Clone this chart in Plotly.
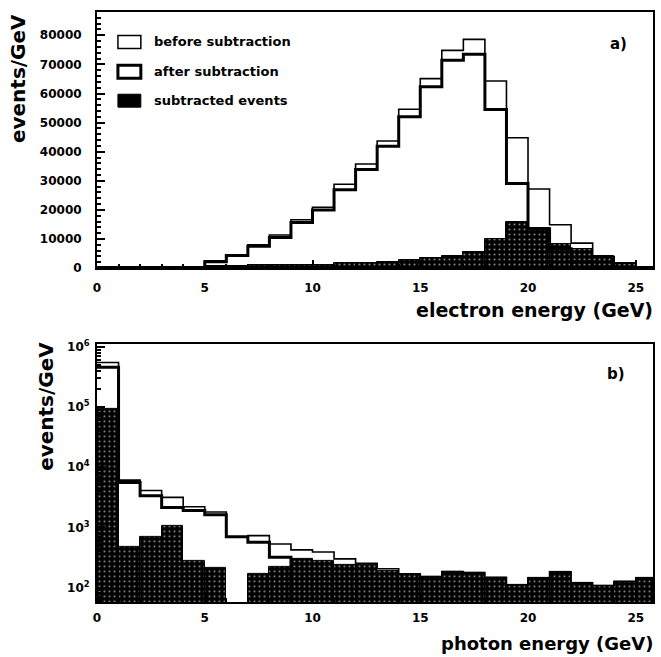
import plotly.graph_objects as go

# 1 GeV bins from 0 to 26 GeV
bin_edges = list(range(27))
bin_centers = [k + 0.5 for k in range(26)]

# a) electron energy spectrum, events/GeV
electron_before = [300, 300, 300, 300, 300, 2500, 4600, 8000, 11400, 16600, 20900, 28800, 35800,
                   43700, 54600, 65100, 74800, 78600, 64300, 44800, 27200, 14900, 8600, 4000, 1700, 300]
electron_after = [250, 250, 250, 250, 250, 2200, 4300, 7500, 10500, 15700, 20000, 26900, 33900,
                  41900, 52000, 62300, 71400, 73500, 54500, 29100, 13500, 6700, 2100, 300, 100, 50]
electron_subtracted = [150, 150, 150, 150, 150, 900, 900, 1000, 1000, 1100, 1200, 1900, 1900,
                       2000, 2900, 3400, 4000, 5500, 10000, 16000, 13700, 8200, 6500, 4000, 1700, 250]

# b) photon energy spectrum, events/GeV
photon_before = [550000, 6100, 4100, 3150, 2200, 1800, 700, 730, 530, 423, 390, 300, 253,
                 205, 169, 152, 184, 177, 148, 111, 145, 182, 120, 108, 127, 145]
photon_after = [457000, 5600, 3370, 2150, 1900, 1620, 700, 565, 318, 40, 40, 40, 13,
                19, 4, 2, 4, 2, 3, 1, 2, 2, 2, 2, 2, 2]
photon_subtracted = [93000, 480, 700, 1040, 273, 210, 0, 169, 223, 299, 275, 241, 240,
                     186, 165, 150, 180, 175, 145, 110, 143, 180, 118, 106, 125, 143]

legend_labels = ["before subtraction", "after subtraction", "subtracted events"]
x_ticks = [0, 5, 10, 15, 20, 25]
electron_yticks = [0, 10000, 20000, 30000, 40000, 50000, 60000, 70000, 80000]
photon_yticks = [1e2, 1e3, 1e4, 1e5, 1e6]
photon_yticklabels = ["10<sup>2</sup>", "10<sup>3</sup>", "10<sup>4</sup>", "10<sup>5</sup>", "10<sup>6</sup>"]
photon_minor_ticks = [m * 10 ** e for e in range(1, 6) for m in range(2, 10)]

FONT = "DejaVu Sans"
W, H = 661, 657
PL, PR, PT, PB = 97, 655, 10, 602


def px(x):
    return (x - PL) / (PR - PL)


def py(y):
    return (PB - y) / (PB - PT)


def steps(vals):
    return vals + [vals[-1]]


hatch = dict(shape=".", fgcolor="white", bgcolor="black", size=5, solidity=0.15)

fig = go.Figure()

# electron panel
fig.add_trace(go.Bar(x=bin_centers, y=electron_subtracted, width=1, xaxis="x", yaxis="y",
                     marker=dict(color="black", line=dict(color="black", width=1), pattern=hatch)))
fig.add_trace(go.Scatter(x=bin_edges, y=steps(electron_before), mode="lines", line_shape="hv",
                         line=dict(color="black", width=1.6), xaxis="x", yaxis="y"))
fig.add_trace(go.Scatter(x=bin_edges, y=steps(electron_after), mode="lines", line_shape="hv",
                         line=dict(color="black", width=3), xaxis="x", yaxis="y"))

# photon panel
fig.add_trace(go.Bar(x=bin_centers, y=photon_subtracted, width=1, xaxis="x2", yaxis="y2",
                     marker=dict(color="black", line=dict(color="black", width=1), pattern=hatch)))
fig.add_trace(go.Scatter(x=bin_edges, y=steps(photon_before), mode="lines", line_shape="hv",
                         line=dict(color="black", width=1.6), xaxis="x2", yaxis="y2"))
fig.add_trace(go.Scatter(x=bin_edges, y=steps(photon_after), mode="lines", line_shape="hv",
                         line=dict(color="black", width=3), xaxis="x2", yaxis="y2"))

tickfont = dict(family=FONT, size=12, color="black", weight="bold")
axis_common = dict(showline=True, linecolor="black", linewidth=2, mirror=True,
                   showgrid=False, zeroline=False, ticks="inside", tickcolor="black",
                   tickwidth=1.5, tickfont=tickfont)

fig.update_layout(
    width=W, height=H,
    margin=dict(l=PL, r=W - PR, t=PT, b=H - PB),
    paper_bgcolor="white", plot_bgcolor="white",
    showlegend=False, barmode="overlay", bargap=0,
    xaxis=dict(domain=[0, 1], anchor="y", range=[0, 25.8], tickvals=x_ticks, ticklen=8,
               ticklabelstandoff=7, minor=dict(dtick=1, ticks="inside", ticklen=4, tickcolor="black"),
               **axis_common),
    yaxis=dict(domain=[py(267), 1], anchor="x", range=[0, 88000], tickvals=electron_yticks,
               tickformat="d", ticklen=8, ticklabelstandoff=11,
               minor=dict(dtick=2000, ticks="inside", ticklen=4, tickcolor="black"), **axis_common),
    xaxis2=dict(domain=[0, 1], anchor="y2", range=[0, 25.8], tickvals=x_ticks, ticklen=8,
                ticklabelstandoff=4, minor=dict(dtick=1, ticks="inside", ticklen=4, tickcolor="black"),
                **axis_common),
    yaxis2=dict(domain=[0, py(343)], anchor="x2", type="log", range=[1.76, 6.05],
                tickvals=photon_yticks, ticktext=photon_yticklabels, ticklen=8, ticklabelstandoff=3,
                minor=dict(tickvals=photon_minor_ticks, ticks="inside", ticklen=4, tickcolor="black"),
                **axis_common),
)

title_font = dict(family=FONT, size=19, color="black", weight="bold")
label_font = dict(family=FONT, size=13, color="black", weight="bold")


def note(text, x, y, font, xanchor="center", angle=0):
    fig.add_annotation(text=text, x=px(x), y=py(y), xref="paper", yref="paper", showarrow=False,
                       xanchor=xanchor, yanchor="middle", textangle=angle, font=font)


note("events/GeV", 17, 77, dict(title_font, size=20), angle=-90)
note("events/GeV", 45, 406, dict(title_font, size=20), angle=-90)
note("electron energy (GeV)", 657, 309, title_font, xanchor="right")
note("photon energy (GeV)", 657, 644, dict(title_font, size=18), xanchor="right")
note("a)", 620, 42, dict(label_font, size=15))
note("b)", 618, 373, dict(label_font, size=15))

# legend boxes and labels
legend_rows = [40, 70, 99]
box_styles = [dict(line=dict(color="black", width=1.5), fillcolor="white"),
              dict(line=dict(color="black", width=3), fillcolor="white"),
              dict(line=dict(color="black", width=1), fillcolor="black")]
for label, yc, style in zip(legend_labels, legend_rows, box_styles):
    fig.add_shape(type="rect", xref="paper", yref="paper", x0=px(118), x1=px(141),
                  y0=py(yc + 6.5), y1=py(yc - 6.5), **style)
    note(label, 152, yc, label_font, xanchor="left")

fig.write_html("out.html")
